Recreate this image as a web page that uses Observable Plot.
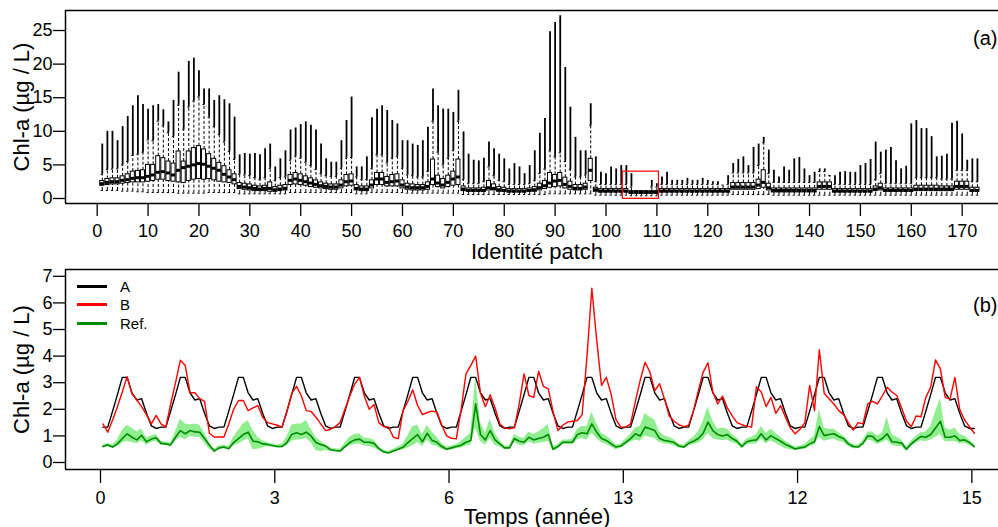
<!DOCTYPE html>
<html><head><meta charset="utf-8">
<script src="https://cdn.jsdelivr.net/npm/d3@7"></script>
<script src="https://cdn.jsdelivr.net/npm/@observablehq/plot@0.6"></script>
<style>
html,body{margin:0;padding:0;background:#fff;}
#wrap{position:relative;width:998px;height:527px;overflow:hidden;font-family:"Liberation Sans",Arial,sans-serif;background:#fff;}
#top{position:absolute;left:0;top:0;}
#bot{position:absolute;left:0;top:265px;}
.lg{position:absolute;height:3px;width:30px;left:77px;}
.lt{position:absolute;left:120px;font-size:15px;line-height:15px;color:#000;}
</style></head>
<body><div id="wrap"><div id="top"></div><div id="bot"></div>
<div class="lg" style="top:285px;background:#000"></div><div class="lt" style="top:279px">A</div>
<div class="lg" style="top:302.5px;background:#ff0000"></div><div class="lt" style="top:296.5px">B</div>
<div class="lg" style="top:322px;background:#008b00"></div><div class="lt" style="top:316px">Ref.</div>
</div>
<script>
// ---------- panel (a): boxplots per patch (1..173) ----------
const patchQ1 = [1.9,2.0,2.1,2.1,2.2,2.3,2.4,2.4,2.4,2.5,
2.6,2.8,2.8,2.6,2.5,2.4,2.3,2.6,2.8,2.9,
2.8,2.9,2.7,2.5,2.4,2.3,2.1,1.4,1.3,1.2,
1.1,1.1,1.1,1.0,1.0,1.1,1.2,2.0,2.1,2.0,
1.9,1.7,1.6,1.5,1.4,1.3,1.3,1.5,1.8,1.9,
1.2,1.1,1.1,1.5,2.0,2.0,1.8,1.8,1.8,1.5,
1.3,1.2,1.2,1.2,1.3,2.0,1.7,1.5,1.7,1.9,
2.0,1.1,1.0,1.0,1.0,1.0,1.2,1.2,1.0,1.0,
0.9,0.9,0.9,0.9,1.0,1.0,1.2,1.4,1.6,1.7,
1.8,1.5,1.3,1.2,1.2,1.3,2.6,1.0,0.9,0.9,
0.9,0.9,0.9,0.9,0.7,0.7,0.7,0.7,0.7,0.7,
0.9,0.9,0.9,0.9,0.9,0.9,0.9,0.9,0.9,0.9,
0.9,0.9,0.9,0.9,1.3,1.3,1.3,1.3,1.3,1.4,
1.6,1.2,0.9,0.9,0.9,0.9,0.9,0.9,0.9,0.9,
0.9,1.3,1.3,1.3,0.9,0.9,0.9,0.9,0.9,0.9,
0.9,0.9,1.1,1.2,1.0,1.0,1.0,1.0,1.0,1.0,
1.1,1.1,1.1,1.1,1.1,1.1,1.1,1.1,1.3,1.3,
1.3,1.0,1.0];
const patchMed = [2.2,2.4,2.5,2.5,2.7,2.8,3.0,3.1,3.1,3.3,
3.5,3.9,4.0,3.8,3.5,4.2,4.6,4.8,5.0,5.2,
5.1,4.8,4.5,4.2,3.6,3.2,2.8,1.8,1.7,1.6,
1.5,1.4,1.5,1.5,1.3,1.4,1.5,2.7,2.9,2.7,
2.5,2.3,2.1,1.9,1.8,1.7,1.7,2.0,2.5,2.6,
1.5,1.4,1.4,2.0,2.9,2.9,2.4,2.5,2.6,2.0,
1.7,1.6,1.6,1.6,1.8,2.9,2.3,2.0,2.4,2.9,
3.2,1.4,1.2,1.2,1.2,1.2,1.6,1.5,1.3,1.2,
1.1,1.1,1.1,1.1,1.2,1.3,1.6,1.9,2.3,2.6,
2.7,2.1,1.8,1.5,1.5,1.7,4.2,1.3,1.1,1.1,
1.1,1.1,1.1,1.1,0.9,0.9,0.9,0.9,0.9,0.9,
1.1,1.1,1.1,1.1,1.1,1.1,1.1,1.1,1.1,1.1,
1.1,1.1,1.1,1.1,1.7,1.7,1.7,1.7,1.7,2.0,
2.4,1.6,1.2,1.2,1.2,1.2,1.2,1.2,1.2,1.2,
1.2,1.8,1.8,1.8,1.1,1.1,1.1,1.1,1.1,1.1,
1.1,1.1,1.4,1.6,1.2,1.2,1.2,1.2,1.2,1.2,
1.4,1.4,1.4,1.4,1.4,1.4,1.4,1.4,1.8,1.8,
1.8,1.2,1.2];
const patchQ3 = [2.6,2.9,3.0,3.0,3.3,3.6,4.0,4.1,4.2,5.0,
5.0,6.3,6.0,5.5,5.2,7.0,5.5,7.0,7.5,7.8,
7.3,6.6,5.9,5.3,4.8,4.2,3.6,2.3,2.2,2.1,
1.9,1.8,1.9,2.4,1.7,1.9,2.0,3.5,3.8,3.6,
3.3,3.0,2.7,2.4,2.2,2.1,2.1,2.7,3.5,3.6,
2.0,1.8,1.8,2.7,3.8,3.8,3.2,3.5,3.6,2.7,
2.2,2.1,2.0,2.0,2.4,5.8,3.4,2.9,3.4,4.0,
5.8,1.8,1.5,1.5,1.5,1.6,2.6,2.1,1.7,1.6,
1.4,1.4,1.4,1.4,1.5,1.7,2.2,2.6,3.8,3.5,
3.8,3.1,2.5,2.0,2.0,2.2,5.9,1.6,1.4,1.4,
1.4,1.4,1.4,1.4,1.1,1.1,1.1,1.1,1.1,1.1,
1.4,1.4,1.4,1.4,1.4,1.4,1.4,1.4,1.4,1.4,
1.4,1.4,1.4,1.4,2.3,2.3,2.3,2.3,2.3,2.8,
4.2,2.2,1.5,1.5,1.5,1.5,1.5,1.5,1.5,1.5,
1.5,2.4,2.4,2.4,1.4,1.4,1.4,1.4,1.4,1.4,
1.4,1.4,1.8,2.2,1.5,1.5,1.5,1.5,1.5,1.5,
1.9,1.9,1.9,1.9,1.9,1.8,1.8,1.8,2.5,2.5,
2.5,1.6,1.6];
const patchHi = [3.6,4.3,4.4,4.4,5.0,5.5,6.4,6.6,6.9,8.7,
8.6,11.5,10.8,9.8,9.2,13.9,10.3,13.6,14.5,15.1,
14.0,12.1,10.7,9.5,8.4,7.0,5.8,3.6,3.5,3.4,
3.1,2.8,3.1,4.5,2.7,3.1,3.2,5.7,6.3,6.0,
5.4,4.9,4.3,3.7,3.4,3.3,3.3,4.5,6.0,6.1,
3.2,2.8,2.8,4.5,6.5,6.5,5.3,6.0,6.3,4.5,
3.5,3.4,3.2,3.2,4.0,11.5,6.9,5.0,6.0,7.1,
11.5,2.8,2.2,2.2,2.2,2.5,4.7,3.4,2.7,2.5,
2.1,2.1,2.1,2.1,2.2,2.7,3.7,4.4,7.1,6.2,
6.8,5.5,4.3,3.2,3.2,3.5,10.9,2.5,2.1,2.1,
2.1,2.1,2.1,2.1,1.7,1.0,1.0,1.0,1.7,1.7,
2.1,2.1,2.1,2.1,2.1,2.1,2.1,2.1,2.1,2.1,
2.1,2.1,2.0,2.1,3.8,3.8,3.8,3.8,3.8,4.9,
8.3,3.7,2.4,2.4,2.4,2.4,2.4,2.4,2.4,2.4,
2.4,4.0,4.0,3.4,2.1,2.1,2.1,2.1,2.1,2.1,
2.1,2.1,2.8,3.7,2.2,2.2,2.2,2.2,2.2,2.2,
3.1,3.1,3.1,3.1,3.1,2.9,2.9,2.9,4.2,4.2,
4.2,2.5,2.5];
const patchMax = [8.1,10.0,10.0,8.6,10.7,12.2,13.8,15.3,14.0,13.3,
13.8,14.0,13.2,11.4,14.6,18.8,14.6,20.4,20.9,19.0,
16.3,16.3,14.6,15.3,14.7,14.1,12.1,6.5,6.7,6.6,
6.7,6.5,7.4,8.1,4.7,5.9,7.1,10.2,10.5,11.0,
11.4,10.9,10.2,8.1,5.9,5.4,5.4,8.6,11.6,15.1,
4.7,4.7,6.2,12.0,13.3,13.8,13.1,11.6,11.1,8.6,
8.6,8.1,7.9,8.6,10.6,16.3,13.8,13.3,13.3,12.8,
16.1,9.9,6.6,5.7,5.6,6.0,8.4,7.4,6.6,5.9,
4.4,5.2,4.7,3.7,4.9,7.1,9.7,11.9,24.8,26.2,
27.2,19.5,13.6,9.1,7.1,7.1,14.1,6.2,3.9,3.7,
4.7,4.4,4.9,4.9,3.7,1.0,1.0,1.0,2.7,2.2,
3.2,3.9,2.7,2.7,2.7,3.0,2.7,2.7,3.0,2.7,
2.5,2.5,2.0,3.4,5.2,5.8,6.2,4.9,7.6,8.1,
9.1,7.2,4.2,3.2,4.7,4.2,5.9,6.1,4.4,3.4,
3.9,4.4,4.4,3.4,3.4,3.9,4.0,3.9,3.9,4.9,
5.2,5.8,8.4,6.9,7.2,7.6,5.6,4.4,4.8,11.1,
11.6,10.4,10.4,9.2,6.2,6.3,6.6,11.2,11.5,9.6,
5.7,5.9,5.9];
const patchLo = [1.2,1.2,1.2,1.2,1.1,1.1,1.1,1.0,1.0,0.9,
0.9,0.9,0.9,0.9,0.9,0.8,0.8,0.8,0.8,0.8,
0.8,0.9,0.9,0.9,0.9,0.9,0.9,0.7,0.7,0.7,
0.7,0.7,0.7,0.7,0.7,0.7,0.7,0.9,0.9,0.9,
0.9,0.9,0.9,0.9,0.9,0.9,0.9,0.9,0.9,0.9,
0.7,0.7,0.7,0.9,0.9,0.9,0.9,0.9,0.9,0.9,
0.8,0.8,0.8,0.8,0.8,0.8,0.8,0.8,0.8,0.8,
0.8,0.6,0.6,0.6,0.6,0.6,0.6,0.6,0.6,0.6,
0.6,0.6,0.6,0.6,0.6,0.6,0.6,0.6,0.7,0.7,
0.7,0.7,0.7,0.7,0.7,0.7,0.7,0.5,0.5,0.5,
0.5,0.5,0.5,0.5,0.4,0.4,0.4,0.4,0.4,0.4,
0.5,0.5,0.5,0.5,0.5,0.5,0.5,0.5,0.5,0.5,
0.5,0.5,0.5,0.5,0.6,0.6,0.6,0.6,0.6,0.6,
0.6,0.6,0.5,0.5,0.5,0.5,0.5,0.5,0.5,0.5,
0.5,0.5,0.5,0.5,0.5,0.5,0.5,0.5,0.5,0.5,
0.5,0.5,0.5,0.5,0.5,0.5,0.5,0.5,0.5,0.5,
0.5,0.5,0.5,0.5,0.5,0.5,0.5,0.5,0.5,0.5,
0.5,0.5,0.5];
const patchTicks = [0,10,20,30,40,50,60,70,80,90,100,110,120,130,140,150,160,170];
const chlTicksA = [0,5,10,15,20,25];
const highlight = {x1:103.3, x2:110.4, y1:-0.05, y2:4.0};

// ---------- panel (b): monthly time series, 15 years ----------
const serieA = [
1.33,1.33,1.93,2.55,3.2,3.2,2.62,2.35,2.4,1.85,1.38,1.28,
1.33,1.33,1.93,2.55,3.2,3.2,2.62,2.35,2.4,1.85,1.38,1.28,
1.33,1.33,1.93,2.55,3.2,3.2,2.62,2.35,2.4,1.85,1.38,1.28,
1.33,1.33,1.93,2.55,3.2,3.2,2.62,2.35,2.4,1.85,1.38,1.28,
1.33,1.33,1.93,2.55,3.2,3.2,2.62,2.35,2.4,1.85,1.38,1.28,
1.33,1.33,1.93,2.55,3.2,3.2,2.62,2.35,2.4,1.85,1.38,1.28,
1.33,1.33,1.93,2.55,3.2,3.2,2.62,2.35,2.4,1.85,1.38,1.28,
1.33,1.33,1.93,2.55,3.2,3.2,2.62,2.35,2.4,1.85,1.38,1.28,
1.33,1.33,1.93,2.55,3.2,3.2,2.62,2.35,2.4,1.85,1.38,1.28,
1.33,1.33,1.93,2.55,3.2,3.2,2.62,2.35,2.4,1.85,1.38,1.28,
1.33,1.33,1.93,2.55,3.2,3.2,2.62,2.35,2.4,1.85,1.38,1.28,
1.33,1.33,1.93,2.55,3.2,3.2,2.62,2.35,2.4,1.85,1.38,1.28,
1.33,1.33,1.93,2.55,3.2,3.2,2.62,2.35,2.4,1.85,1.38,1.28,
1.33,1.33,1.93,2.55,3.2,3.2,2.62,2.35,2.4,1.85,1.38,1.28,
1.33,1.33,1.93,2.55,3.2,3.2,2.62,2.35,2.4,1.85,1.38,1.28,
1.28];
const serieB = [
1.45,1.14,1.6,2.1,2.65,3.23,2.58,2.35,2.1,1.8,1.45,1.77,
1.45,1.33,2.2,3.0,3.85,3.65,2.62,2.62,2.4,2.3,1.1,0.96,
0.96,0.96,1.45,2.0,2.33,2.33,1.95,2.05,2.14,1.7,1.5,1.45,
1.4,1.33,1.9,2.6,2.86,2.5,1.95,1.92,1.7,1.45,1.2,1.25,
1.35,1.5,2.0,2.5,2.95,3.2,2.5,2.0,2.18,1.5,1.35,1.33,
0.95,0.9,1.95,2.3,2.73,2.15,1.8,1.88,1.93,1.9,1.4,1.0,
0.91,0.89,2.0,3.33,3.65,4.0,2.6,2.1,2.55,2.05,1.45,1.3,
1.27,1.3,2.2,3.33,2.52,2.45,3.43,2.86,2.77,1.9,1.2,1.4,
1.52,1.55,1.58,1.8,4.0,6.55,4.6,2.9,3.2,2.55,1.6,1.33,
1.33,1.45,2.3,3.1,3.77,3.4,2.7,2.96,2.4,1.75,1.55,1.42,
1.35,1.4,1.95,2.7,3.4,3.75,2.65,2.2,2.5,2.05,1.75,1.5,
1.42,1.37,1.33,2.85,2.65,2.1,2.45,1.85,2.14,1.7,1.3,1.08,
1.25,1.5,2.9,1.95,4.24,2.6,2.4,2.2,1.95,1.8,1.5,1.22,
1.5,1.45,2.2,2.3,2.2,2.5,2.83,2.65,2.52,2.05,1.55,1.35,
1.75,1.72,2.45,2.83,3.86,3.52,2.45,2.38,3.2,2.0,1.6,1.35,
1.1];
const serieRef = [
0.60,0.66,0.58,0.70,0.90,1.08,0.95,0.85,1.02,0.78,0.88,0.93,
0.72,0.70,0.66,0.95,1.20,1.08,1.20,1.15,1.14,0.90,0.65,0.43,
0.55,0.58,0.52,0.75,0.90,1.05,1.14,0.80,0.78,0.70,0.68,0.64,
0.60,0.60,0.75,1.05,1.12,1.05,1.14,1.00,0.75,0.68,0.62,0.48,
0.45,0.43,0.60,0.75,0.85,0.88,0.76,0.76,0.72,0.52,0.40,0.36,
0.43,0.50,0.57,0.75,0.90,1.05,0.78,1.10,0.83,0.76,0.60,0.50,
0.55,0.60,0.65,0.76,0.83,2.20,1.05,0.85,1.20,0.85,0.70,0.55,
0.55,0.90,0.80,0.76,0.95,0.85,0.90,0.95,1.05,0.50,0.60,0.76,
0.76,0.76,1.05,1.12,1.08,1.45,1.14,0.90,0.83,0.70,0.58,0.62,
0.76,0.90,1.08,1.00,1.33,1.27,1.20,0.90,0.83,0.80,0.75,0.62,
0.58,0.72,0.80,0.90,1.10,1.52,1.20,1.05,1.00,1.05,0.90,0.80,
0.60,0.78,0.83,0.85,1.08,0.85,1.01,0.90,0.80,0.68,0.60,0.51,
0.55,0.58,0.70,0.78,1.35,1.01,1.05,1.08,0.98,0.90,0.70,0.60,
0.58,0.72,1.00,0.98,0.80,0.90,1.08,0.78,0.76,0.73,0.50,0.70,
0.85,0.98,0.95,1.05,1.30,1.55,0.95,0.95,1.00,0.83,0.85,0.75,
0.60];
const refHigh = [
0.66,0.72,0.66,0.85,1.20,1.39,1.30,1.15,1.26,0.92,1.00,1.05,
0.80,0.76,0.74,1.15,1.64,1.45,1.42,1.45,1.40,1.10,0.75,0.50,
0.62,0.65,0.60,0.95,1.20,1.45,1.58,1.20,0.95,0.82,0.75,0.70,
0.66,0.70,0.95,1.40,1.45,1.45,1.58,1.25,0.95,0.80,0.68,0.55,
0.52,0.50,0.72,0.95,1.05,1.08,0.92,0.90,0.85,0.60,0.46,0.42,
0.50,0.58,0.70,1.00,1.35,1.40,1.05,1.40,1.15,0.95,0.72,0.58,
0.62,0.68,0.78,0.95,1.10,3.20,1.50,1.10,1.62,1.10,0.82,0.62,
0.62,1.05,0.95,0.90,1.15,1.05,1.15,1.28,1.42,0.60,0.68,0.85,
0.85,0.88,1.25,1.35,1.35,1.90,1.45,1.10,1.00,0.85,0.66,0.70,
0.88,1.05,1.30,1.35,1.85,1.70,1.60,1.15,1.00,0.95,0.85,0.70,
0.65,0.82,0.95,1.15,1.55,2.10,1.55,1.25,1.30,1.25,1.05,0.92,
0.68,0.88,0.95,1.05,1.35,1.10,1.25,1.10,0.95,0.80,0.70,0.58,
0.62,0.68,0.85,1.00,2.00,1.30,1.25,1.25,1.12,1.00,0.80,0.68,
0.65,0.82,1.15,1.15,1.00,1.10,1.70,1.05,0.95,0.85,0.58,0.80,
0.98,1.12,1.15,1.35,1.90,2.40,1.30,1.20,1.30,1.05,1.00,0.85,
0.68];
const refLow = [
0.55,0.60,0.54,0.60,0.72,0.80,0.75,0.70,0.82,0.65,0.75,0.80,
0.66,0.64,0.60,0.80,0.95,0.85,0.98,0.95,0.95,0.72,0.50,0.38,
0.48,0.52,0.48,0.62,0.70,0.80,0.90,0.48,0.50,0.55,0.60,0.58,
0.55,0.55,0.62,0.80,0.85,0.85,0.90,0.75,0.45,0.40,0.45,0.42,
0.40,0.38,0.52,0.62,0.68,0.70,0.62,0.60,0.55,0.45,0.35,0.32,
0.38,0.44,0.48,0.55,0.62,0.75,0.60,0.85,0.65,0.60,0.50,0.44,
0.48,0.52,0.55,0.62,0.65,1.30,0.80,0.65,0.90,0.65,0.58,0.48,
0.48,0.75,0.65,0.62,0.78,0.70,0.72,0.75,0.80,0.42,0.52,0.68,
0.68,0.66,0.85,0.90,0.85,1.10,0.90,0.75,0.68,0.58,0.48,0.54,
0.65,0.75,0.85,0.80,1.00,0.95,0.90,0.75,0.70,0.68,0.62,0.55,
0.52,0.62,0.68,0.72,0.85,1.10,0.90,0.85,0.82,0.85,0.75,0.68,
0.52,0.66,0.70,0.70,0.88,0.70,0.82,0.72,0.62,0.52,0.48,0.45,
0.48,0.50,0.60,0.65,0.95,0.80,0.85,0.88,0.80,0.75,0.60,0.52,
0.52,0.62,0.85,0.80,0.68,0.75,0.85,0.65,0.60,0.60,0.42,0.60,
0.72,0.82,0.78,0.85,0.95,1.05,0.78,0.78,0.80,0.70,0.72,0.65,
0.55];
const yearTicks = [0,3,6,9,12,15];
const yearTickLabels = ["0","3","6","13","12","15"];
const chlTicksB = [0,1,2,3,4,5,6,7];

// ---------- build tables ----------
const patches = patchMed.map((m, i) => ({
  p: i + 1, q1: patchQ1[i], med: m, q3: patchQ3[i],
  hi: patchHi[i], max: patchMax[i], lo: patchLo[i]
}));
const series = serieA.map((a, i) => ({
  t: (i + 0.5) / 12, A: a, B: serieB[i], ref: serieRef[i], lo: refLow[i], hi: refHigh[i]
}));

const font = "'Liberation Sans', Arial, sans-serif";

// ---------- panel (a) ----------
const xA = [-6.23, 177.14], yA = [-0.744, 27.98];
const plotA = Plot.plot({
  width: 998, height: 265,
  marginLeft: 65, marginRight: 0, marginTop: 10, marginBottom: 62,
  x: {type: "linear", domain: xA},
  y: {type: "linear", domain: yA},
  style: {fontFamily: font, fontSize: "18px", color: "#000", background: "transparent", overflow: "visible"},
  marks: [
    Plot.ruleX(patches, {x: "p", y1: "hi", y2: "max", stroke: "#000", strokeWidth: 1.8}),
    Plot.ruleX(patches, {x: "p", y1: "q3", y2: "hi", stroke: "#000", strokeWidth: 1, strokeDasharray: "3,2"}),
    Plot.ruleX(patches, {x: "p", y1: "lo", y2: "q1", stroke: "#000", strokeWidth: 1, strokeDasharray: "3,2"}),
    Plot.ruleY(patches, {y: "hi", x1: d => d.p - 0.22, x2: d => d.p + 0.22, stroke: "#000", strokeWidth: 1}),
    Plot.ruleY(patches, {y: "lo", x1: d => d.p - 0.22, x2: d => d.p + 0.22, stroke: "#000", strokeWidth: 1}),
    Plot.rect(patches, {x1: d => d.p - 0.4, x2: d => d.p + 0.4, y1: "q1", y2: "q3", fill: "#fff", stroke: "#000", strokeWidth: 1}),
    Plot.ruleY(patches, {y: "med", x1: d => d.p - 0.4, x2: d => d.p + 0.4, stroke: "#000", strokeWidth: 3}),
    Plot.rect([highlight], {x1: "x1", x2: "x2", y1: "y1", y2: "y2", fill: "none", stroke: "#ff0000", strokeWidth: 1.2}),
    Plot.ruleY([yA[1]], {stroke: "#000", strokeWidth: 1.5}),
    Plot.ruleY([yA[0]], {stroke: "#000", strokeWidth: 1.5}),
    Plot.ruleX([xA[0]], {stroke: "#000", strokeWidth: 1.5}),
    Plot.axisX(patchTicks, {tickSize: 13, tickPadding: 8, label: null, strokeWidth: 1.3, fontSize: 18}),
    Plot.axisY(chlTicksA, {tickSize: 12, tickPadding: 1, label: null, strokeWidth: 1.3, fontSize: 18}),
    Plot.text(["(a)"], {frameAnchor: "top-right", dx: -1, dy: 28, lineAnchor: "middle", fontSize: 20}),
    Plot.text(["Identité patch"], {frameAnchor: "bottom", dx: 5, dy: 48, lineAnchor: "middle", textAnchor: "middle", fontSize: 22}),
    Plot.text(["Chl-a (µg / L)"], {frameAnchor: "left", dx: -44, rotate: -90, lineAnchor: "middle", textAnchor: "middle", fontSize: 22})
  ]
});
document.getElementById("top").append(plotA);

// ---------- panel (b) ----------
const xB = [-0.6025, 15.459], yB = [-0.263, 7.256];
const plotB = Plot.plot({
  width: 998, height: 262,
  marginLeft: 65, marginRight: 0, marginTop: 4, marginBottom: 58,
  x: {type: "linear", domain: xB},
  y: {type: "linear", domain: yB},
  style: {fontFamily: font, fontSize: "18px", color: "#000", background: "transparent", overflow: "visible"},
  marks: [
    Plot.areaY(series, {x: "t", y1: "lo", y2: "hi", fill: "#90ee90"}),
    Plot.lineY(series, {x: "t", y: "A", stroke: "#000", strokeWidth: 1.4}),
    Plot.lineY(series, {x: "t", y: "B", stroke: "#ff0000", strokeWidth: 1.4}),
    Plot.lineY(series, {x: "t", y: "ref", stroke: "#008b00", strokeWidth: 1.6}),
    Plot.ruleY([yB[1]], {stroke: "#000", strokeWidth: 1.5}),
    Plot.ruleY([yB[0]], {stroke: "#000", strokeWidth: 1.5}),
    Plot.ruleX([xB[0]], {stroke: "#000", strokeWidth: 1.5}),
    Plot.axisX(yearTicks, {tickSize: 14, tickPadding: 8, label: null, strokeWidth: 1.3, fontSize: 18,
      tickFormat: d => yearTickLabels[yearTicks.indexOf(d)]}),
    Plot.axisY(chlTicksB, {tickSize: 12, tickPadding: 1, label: null, strokeWidth: 1.3, fontSize: 18}),
    Plot.text(["(b)"], {frameAnchor: "top-right", dx: -1, dy: 36, lineAnchor: "middle", fontSize: 20}),
    Plot.text(["Temps (année)"], {frameAnchor: "bottom", dx: 5, dy: 47, lineAnchor: "middle", textAnchor: "middle", fontSize: 22}),
    Plot.text(["Chl-a (µg / L)"], {frameAnchor: "left", dx: -44, rotate: -90, lineAnchor: "middle", textAnchor: "middle", fontSize: 22})
  ]
});
document.getElementById("bot").append(plotB);
</script>
</body></html>
